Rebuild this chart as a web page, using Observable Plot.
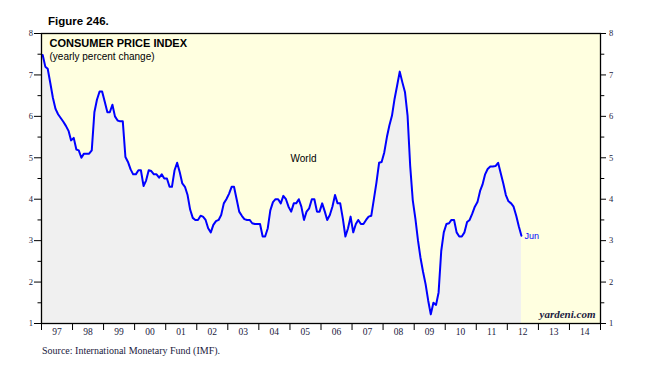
<!DOCTYPE html>
<html><head><meta charset="utf-8">
<script src="https://cdn.jsdelivr.net/npm/d3@7"></script>
<script src="https://cdn.jsdelivr.net/npm/@observablehq/plot@0.6"></script>
<style>
body{margin:0;background:#fff;}
#wrap{position:relative;width:647px;height:381px;overflow:hidden;background:#fff;}
#chart{position:absolute;left:0;top:0;}
#fig{position:absolute;left:48px;top:15px;font:bold 11.5px "Liberation Sans",Arial,sans-serif;color:#000;white-space:nowrap;}
#src{position:absolute;left:42px;top:345px;font:10px "Liberation Serif","Times New Roman",serif;color:#1a1a40;white-space:nowrap;}
</style></head><body>
<div id="wrap"><div id="chart"></div><div id="fig">Figure 246.</div><div id="src">Source: International Monetary Fund (IMF).</div></div>
<script>
// Monthly world CPI, yearly percent change, Jan 1997 .. Jun 2012
const startYear = 1997;
const cpi = [
  7.48, 7.2, 7.15, 6.8, 6.45, 6.18, 6.05, 5.96, 5.87, 5.77, 5.65, 5.42,
  5.48, 5.2, 5.18, 5.0, 5.1, 5.1, 5.1, 5.18, 6.1, 6.4, 6.6, 6.6,
  6.35, 6.1, 6.1, 6.28, 6.0, 5.9, 5.88, 5.88, 5.02, 4.9, 4.72, 4.6,
  4.6, 4.7, 4.7, 4.32, 4.45, 4.7, 4.68, 4.6, 4.6, 4.52, 4.6, 4.5,
  4.5, 4.3, 4.3, 4.7, 4.88, 4.65, 4.38, 4.3, 4.1, 3.75, 3.55, 3.5,
  3.5, 3.6, 3.58, 3.5, 3.3, 3.2, 3.38, 3.47, 3.5, 3.62, 3.9, 4.0,
  4.13, 4.3, 4.3, 4.0, 3.7, 3.6, 3.52, 3.5, 3.5, 3.42, 3.4, 3.4,
  3.4, 3.1, 3.1, 3.3, 3.73, 3.93, 4.0, 4.0, 3.9, 4.08, 4.0, 3.82,
  3.7, 3.9, 3.9, 4.0, 3.82, 3.5, 3.7, 3.78, 4.0, 4.0, 3.7, 3.7,
  3.9, 3.7, 3.5, 3.62, 3.82, 4.1, 3.9, 3.9, 3.53, 3.1, 3.3, 3.58,
  3.2, 3.4, 3.5, 3.4, 3.4, 3.5, 3.58, 3.6, 4.0, 4.4, 4.88, 4.9,
  5.13, 5.5, 5.78, 6.02, 6.42, 6.75, 7.08, 6.82, 6.58, 6.02, 4.8, 3.98,
  3.53, 3.0, 2.6, 2.25, 1.95, 1.55, 1.22, 1.5, 1.45, 1.75, 2.75, 3.2,
  3.4, 3.42, 3.5, 3.5, 3.2, 3.1, 3.1, 3.2, 3.45, 3.5, 3.65, 3.82,
  3.93, 4.2, 4.35, 4.6, 4.73, 4.79, 4.79, 4.8, 4.88, 4.63, 4.38, 4.1,
  3.95, 3.9, 3.82, 3.6, 3.35, 3.12
];
const seriesName = "World";
const yMajor = [1, 2, 3, 4, 5, 6, 7, 8];
const yMinor = [1.5, 2.5, 3.5, 4.5, 5.5, 6.5, 7.5];
const xLabels = ["97","98","99","00","01","02","03","04","05","06","07","08","09","10","11","12","13","14"];
const labelYears = d3.range(1997, 2015);
const boundaryYears = d3.range(1997, 2016);

const data = cpi.map((v, i) => ({date: new Date(Date.UTC(startYear, i, 15)), value: v}));
const last = [data[data.length - 1]];
const yearTicks = boundaryYears.map(y => new Date(Date.UTC(y, 0, 1)));
const labelTicks = labelYears.map(y => new Date(Date.UTC(y, 6, 1)));
const labelFor = new Map(labelYears.map((y, i) => [y, xLabels[i]]));

const serif = '"Liberation Serif","Times New Roman",serif';
const sans = '"Liberation Sans",Arial,Helvetica,sans-serif';
const axisColor = "#1a1a40";
const intFmt = d => String(d);

const chart = Plot.plot({
  width: 647, height: 381,
  marginLeft: 41, marginRight: 47, marginTop: 33, marginBottom: 58,
  style: {background: "transparent", fontFamily: sans},
  x: {type: "utc", domain: [yearTicks[0], yearTicks[yearTicks.length - 1]]},
  y: {domain: [1, 8]},
  marks: [
    Plot.frame({fill: "#ffffe0", stroke: null}),
    Plot.areaY(data, {x: "date", y1: 1, y2: "value", fill: "#f0f0f0"}),
    Plot.line(data, {x: "date", y: "value", stroke: "#0000ff", strokeWidth: 2}),
    Plot.frame({stroke: "#000", strokeWidth: 1.3}),
    Plot.axisY({ticks: yMajor, anchor: "left", tickSize: 7, tickPadding: 1.5, tickFormat: intFmt, fontSize: 8.5, fontFamily: serif, fill: axisColor, stroke: "#000", label: null}),
    Plot.axisY({ticks: yMinor, anchor: "left", tickSize: 3.5, tickFormat: () => "", stroke: "#000", label: null}),
    Plot.axisY({ticks: yMajor, anchor: "right", tickSize: 5, tickPadding: 3.5, tickFormat: intFmt, fontSize: 8.5, fontFamily: serif, fill: axisColor, stroke: "#000", label: null}),
    Plot.axisY({ticks: yMinor, anchor: "right", tickSize: 3.3, tickFormat: () => "", stroke: "#000", label: null}),
    Plot.axisX({ticks: yearTicks, tickSize: 7, tickFormat: () => "", stroke: "#000", label: null}),
    Plot.axisX({ticks: labelTicks, tickSize: 0, tickPadding: 5, tickFormat: d => labelFor.get(d.getUTCFullYear()), fontSize: 9.5, fontFamily: serif, fill: axisColor, label: null}),
    Plot.text(["CONSUMER PRICE INDEX"], {text: d => d, frameAnchor: "top-left", dx: 8, dy: 6, textAnchor: "start", lineAnchor: "top", fontSize: 11, fontWeight: "bold", fill: "#000"}),
    Plot.text(["(yearly percent change)"], {text: d => d, frameAnchor: "top-left", dx: 8, dy: 19, textAnchor: "start", lineAnchor: "top", fontSize: 10, fill: "#000"}),
    Plot.text([seriesName], {text: d => d, frameAnchor: "top-left", dx: 262, dy: 125, textAnchor: "middle", lineAnchor: "middle", fontSize: 10, fill: "#000"}),
    Plot.text(last, {x: "date", y: "value", text: d => d3.utcFormat("%b")(d.date), dx: 3, textAnchor: "start", fontSize: 9, fill: "#0000ff"}),
    Plot.text(["yardeni.com"], {text: d => d, frameAnchor: "bottom-right", dx: -5, dy: -5.5, textAnchor: "end", lineAnchor: "bottom", fontSize: 11, fontWeight: "bold", fontStyle: "italic", fontFamily: serif, fill: axisColor})
  ]
});
document.getElementById("chart").appendChild(chart);
</script>
</body></html>
